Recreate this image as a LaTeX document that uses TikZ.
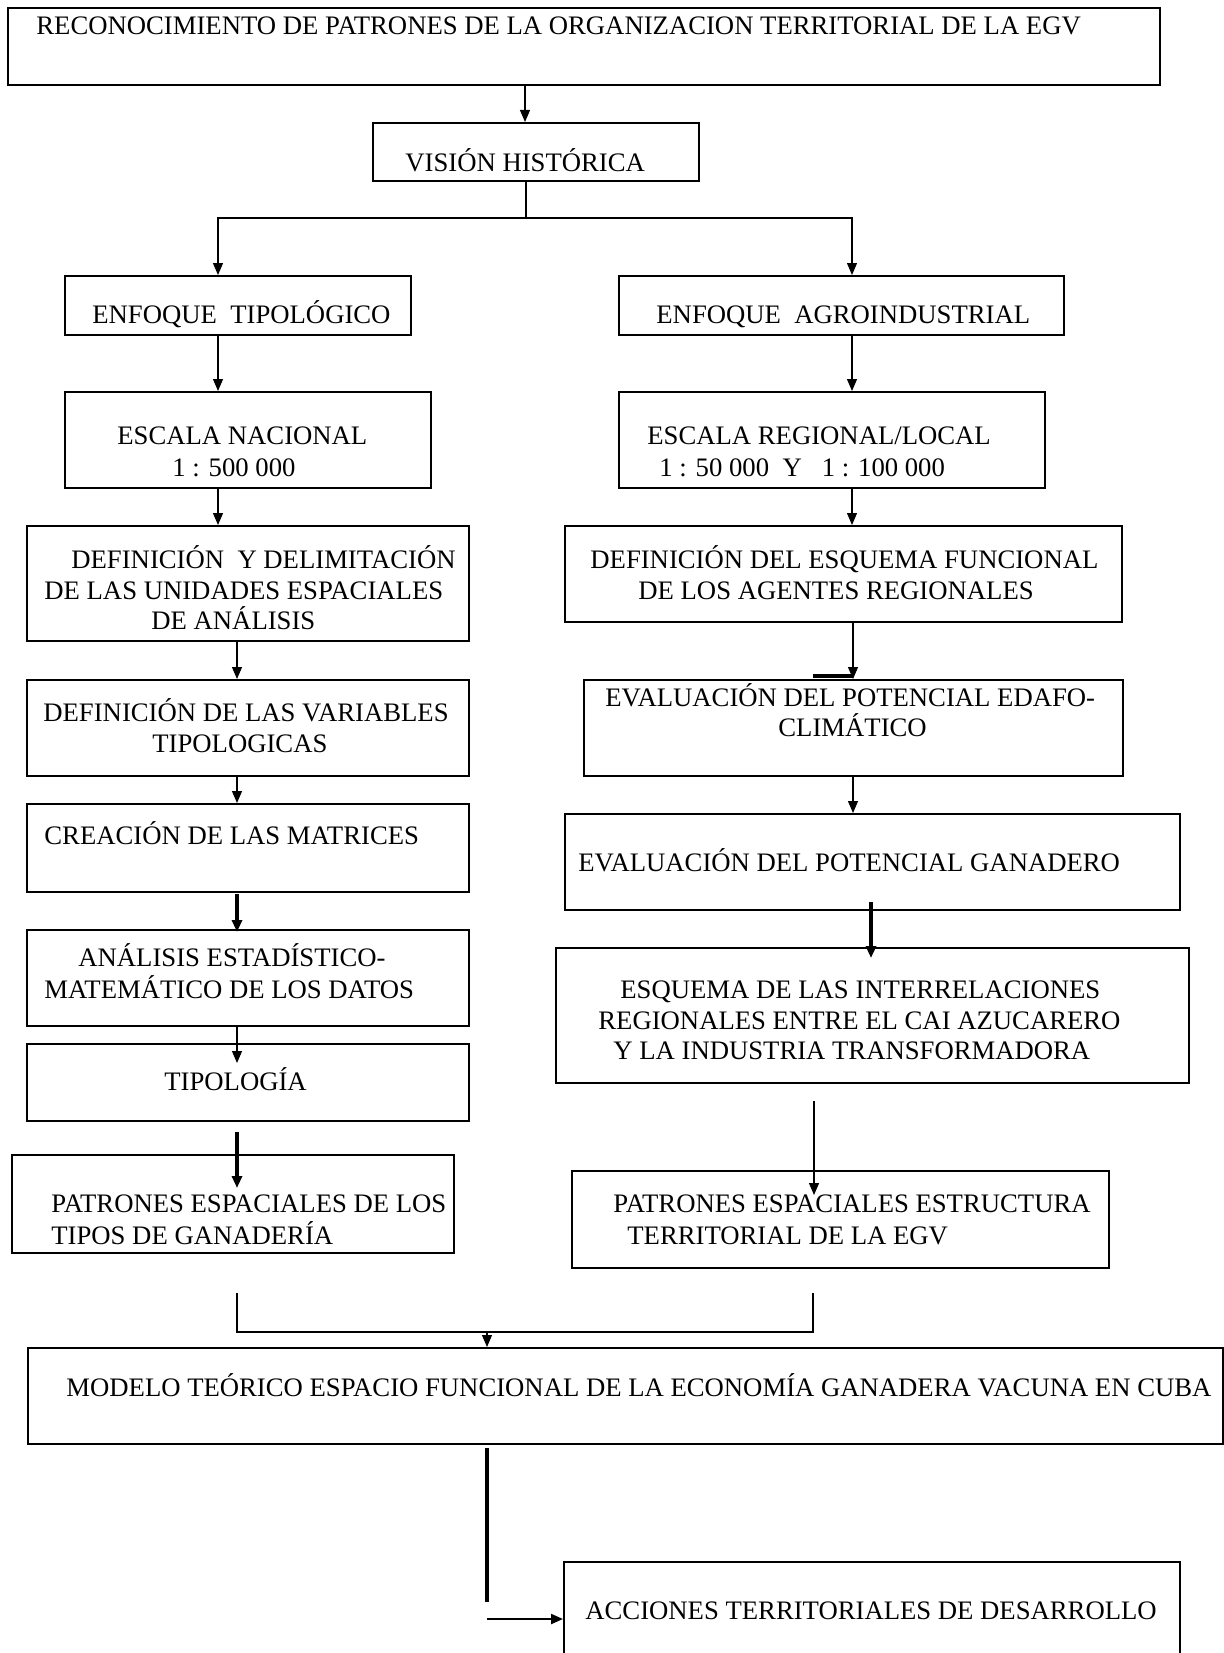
\documentclass[tikz,border=0pt]{standalone}
\usepackage{fontspec}
\setmainfont{Liberation Serif}
\usetikzlibrary{arrows.meta}
\tikzset{
  box/.style={draw, line width=0.8pt, inner sep=0pt, rectangle},
  txt/.style={inner sep=0pt, text height=0.66em, text depth=0pt, anchor=west, yshift=-1.5pt, font=\fontsize{13.35}{16}\selectfont},
  arr/.style={line width=0.6pt, -{Triangle[length=6pt,width=5pt]}},
  thk/.style={line width=1.7pt, -{Triangle[length=6pt,width=5pt]}},
  ln/.style={line width=0.6pt},
}
\newcommand\bx[5]{\node[box, minimum width={(#4-#2)*0.5pt}, minimum height={(#5-#3)*0.5pt}, anchor=north west] (#1) at (#2,#3) {};}
\newcommand\tx[4]{\node[txt] (#1) at (#2,#3) {#4};}
\begin{document}
\begin{tikzpicture}[x=0.5pt,y=-0.5pt]
\useasboundingbox (0,0) rectangle (1224,1653);
% boxes
\bx{top}{7}{7}{1159}{84}
\bx{vision}{372}{122}{698}{180}
\bx{enfT}{64}{275}{410}{334}
\bx{enfA}{618}{275}{1063}{334}
\bx{escN}{64}{391}{430}{487}
\bx{escR}{618}{391}{1044}{487}
\bx{defD}{26}{525}{468}{640}
\bx{defE}{564}{525}{1121}{621}
\bx{defV}{26}{679}{468}{775}
\bx{evalE}{583}{679}{1122}{775}
\bx{crea}{26}{803}{468}{891}
\bx{evalG}{564}{813}{1179}{909}
\bx{anal}{26}{929}{468}{1025}
\bx{esq}{555}{947}{1188}{1082}
\bx{tipo}{26}{1043}{468}{1120}
\bx{patL}{11}{1154}{453}{1252}
\bx{patR}{571}{1170}{1108}{1267}
\bx{modelo}{27}{1347}{1222}{1443}
\bx{acc}{563}{1561}{1179}{1670}
% texts
\tx{t1}{36}{25}{RECONOCIMIENTO DE PATRONES DE LA ORGANIZACION TERRITORIAL DE LA EGV}
\tx{t2}{405}{162}{VISIÓN HISTÓRICA}
\tx{t3}{92}{314}{ENFOQUE\ \ TIPOLÓGICO}
\tx{t4}{656}{314}{ENFOQUE\ \ AGROINDUSTRIAL}
\tx{t5}{117}{435}{ESCALA NACIONAL}
\tx{t6}{172}{467}{1 : 500 000}
\tx{t7}{647}{435}{ESCALA REGIONAL/LOCAL}
\tx{t8}{659}{467}{1 : 50 000\ \ Y\ \ \ 1 : 100 000}
\tx{t9}{71}{559}{DEFINICIÓN\ \ Y DELIMITACIÓN}
\tx{t10}{44}{590}{DE LAS UNIDADES ESPACIALES}
\tx{t11}{151}{620}{DE ANÁLISIS}
\tx{t12}{590}{559}{DEFINICIÓN DEL ESQUEMA FUNCIONAL}
\tx{t13}{638}{590}{DE LOS AGENTES REGIONALES}
\tx{t14}{43}{712}{DEFINICIÓN DE LAS VARIABLES}
\tx{t15}{152}{743}{TIPOLOGICAS}
\tx{t16}{605}{697}{EVALUACIÓN DEL POTENCIAL EDAFO-}
\tx{t17}{778}{727}{CLIMÁTICO}
\tx{t18}{44}{835}{CREACIÓN DE LAS MATRICES}
\tx{t19}{578}{862}{EVALUACIÓN DEL POTENCIAL GANADERO}
\tx{t20}{78}{957}{ANÁLISIS ESTADÍSTICO-}
\tx{t21}{44}{989}{MATEMÁTICO DE LOS DATOS}
\tx{t22}{620}{989}{ESQUEMA DE LAS INTERRELACIONES}
\tx{t23}{598}{1020}{REGIONALES ENTRE EL CAI AZUCARERO}
\tx{t24}{613}{1050}{Y LA INDUSTRIA TRANSFORMADORA}
\tx{t25}{164}{1081}{TIPOLOGÍA}
\tx{t26}{51}{1203}{PATRONES ESPACIALES DE LOS}
\tx{t27}{51}{1235}{TIPOS DE GANADERÍA}
\tx{t28}{613}{1203}{PATRONES ESPACIALES ESTRUCTURA}
\tx{t29}{627}{1235}{TERRITORIAL DE LA EGV}
\tx{t30}{66}{1387}{MODELO TEÓRICO ESPACIO FUNCIONAL DE LA ECONOMÍA GANADERA VACUNA EN CUBA}
\tx{t31}{585}{1610}{ACCIONES TERRITORIALES DE DESARROLLO}
% helper coordinates
\coordinate (xa) at (525,0);
\coordinate (jv) at (526,218);
\coordinate (xl) at (218,0);
\coordinate (xr) at (852,0);
\coordinate (xl2) at (237,0);
\coordinate (xr2) at (853,0);
\coordinate (xm) at (487,0);
\coordinate (bk1) at (813,676);
\coordinate (bk2) at (853,676);
\coordinate (a1) at (237,894);
\coordinate (a1e) at (237,932);
\coordinate (a2e) at (237,1063);
\coordinate (a3) at (237,1132);
\coordinate (a3e) at (237,1188);
\coordinate (b1) at (871,902);
\coordinate (b1e) at (871,958);
\coordinate (b2) at (814,1101);
\coordinate (b2e) at (814,1195);
\coordinate (jl) at (237,1293);
\coordinate (jr) at (813,1293);
\coordinate (jm) at (487,1332);
\coordinate (m1) at (487,1448);
\coordinate (m2) at (487,1602);
\coordinate (h1) at (487,1619);
% connectors
\draw[arr] (top.south -| xa) -- (vision.north -| xa);
\draw[ln] (vision.south -| jv) -- (jv);
\draw[arr] (jv) -| (enfT.north -| xl);
\draw[arr] (jv) -| (enfA.north -| xr);
\draw[arr] (enfT.south -| xl) -- (escN.north -| xl);
\draw[arr] (enfA.south -| xr) -- (escR.north -| xr);
\draw[arr] (escN.south -| xl) -- (defD.north -| xl);
\draw[arr] (escR.south -| xr) -- (defE.north -| xr);
\draw[arr] (defD.south -| xl2) -- (defV.north -| xl2);
\draw[arr] (defE.south -| xr2) -- (evalE.north -| xr2);
\draw[line width=1.7pt] (bk1) -- (bk2);
\draw[arr] (defV.south -| xl2) -- (crea.north -| xl2);
\draw[arr] (evalE.south -| xr2) -- (evalG.north -| xr2);
\draw[thk] (a1) -- (a1e);
\draw[thk] (b1) -- (b1e);
\draw[arr] (anal.south -| xl2) -- (a2e);
\draw[thk] (a3) -- (a3e);
\draw[arr] (b2) -- (b2e);
\draw[ln] (jl) |- (jm) -| (jr);
\draw[arr] (jm) -- (modelo.north -| xm);
\draw[line width=1.7pt] (m1) -- (m2);
\draw[line width=1.1pt, -{Triangle[length=6pt,width=5pt]}] (h1) -- (acc.west |- h1);
\end{tikzpicture}
\end{document}
